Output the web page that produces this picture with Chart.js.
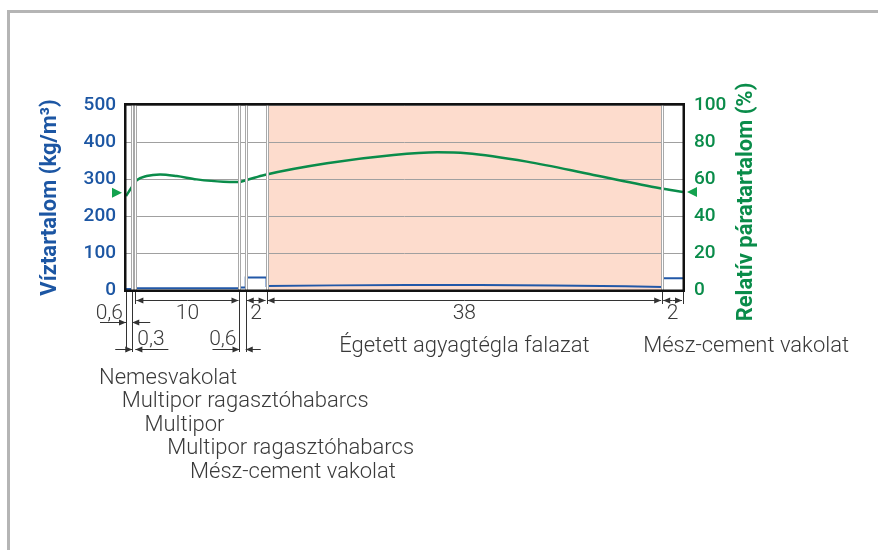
<!DOCTYPE html>
<html>
<head>
<meta charset="utf-8">
<title>Víztartalom és relatív páratartalom</title>
<script src="https://cdn.jsdelivr.net/npm/chart.js@4"></script>
<style>
    body { margin: 0; background: #fff; }
    #wrap { position: relative; width: 878px; height: 550px; }
    #frame { position: absolute; left: 7px; top: 10px; right: 0; bottom: 0;
             border-top: 3px solid #b5b5b5; border-left: 3px solid #b5b5b5; }
    canvas { position: absolute; left: 0; top: 0; }
</style>
</head>
<body>
<div id="wrap">
    <div id="frame"></div>
    <canvas id="wall"></canvas>
</div>
<script>
/**
 * Wall section: water content and relative humidity across the layers
 */

// layers from inside to outside, thickness in cm
const layerNames = ['Nemesvakolat', 'Multipor ragasztóhabarcs', 'Multipor',
    'Multipor ragasztóhabarcs', 'Mész-cement vakolat', 'Égetett agyagtégla falazat', 'Mész-cement vakolat'];
const layerThickness = [0.6, 0.3, 10, 0.6, 2, 38, 2];
const layerLabels = ['0,6', '0,3', '10', '0,6', '2', '38', '2'];

// water content (kg/m³), stepped per layer
const waterX = [0, 0.6, 0.6, 0.9, 0.9, 10.9, 10.9, 11.5, 11.5, 13.5, 13.5, 20, 27, 34, 41, 48, 51.5, 51.5, 53.5];
const waterY = [3, 3, 9, 9, 4.5, 4.5, 7, 7, 34, 34, 11, 12.5, 13.5, 13.5, 12, 10, 8, 32, 32];

// relative humidity (%)
const rhX = [0, 0.55, 1.03, 1.98, 3.27, 4.87, 6.79, 9.35, 10.8, 11.6, 13.3, 19.3, 25.7, 29.9, 32.7, 38.5, 44.9, 51.3, 53.5];
const rhY = [50.8, 55.5, 59.3, 61.6, 62.5, 61.6, 59.8, 58.5, 58.4, 59.5, 62.2, 68.5, 73.0, 74.4, 73.9, 69.4, 62.2, 55.0, 53.0];

// boundary humidity inside / outside (%)
const rhInside = 52.6;
const rhOutside = 53;

const BLUE = '#1c56a3';
const GREEN = '#0a8c4a';
const TEXT = '#3a3a3a';

const edges = [0];
layerThickness.forEach(t => edges.push(Math.round((edges[edges.length - 1] + t) * 10) / 10));

function arrow(ctx, x1, y, x2) {
    const dir = x2 > x1 ? 1 : -1;
    ctx.beginPath();
    ctx.moveTo(x1, y);
    ctx.lineTo(x2, y);
    ctx.stroke();
    ctx.beginPath();
    ctx.moveTo(x2, y);
    ctx.lineTo(x2 - dir * 7, y - 3);
    ctx.lineTo(x2 - dir * 7, y + 3);
    ctx.closePath();
    ctx.fill();
}

const wallPlugin = {
    id: 'wall',
    beforeDraw(chart) {
        const {ctx, chartArea: a, scales: {x}} = chart;
        // brick layer background
        const x1 = x.getPixelForValue(edges[5]);
        const x2 = x.getPixelForValue(edges[6]);
        ctx.save();
        ctx.fillStyle = '#fddccd';
        ctx.fillRect(x1, a.top, x2 - x1, a.bottom - a.top);
        ctx.restore();
    },
    afterDatasetsDraw(chart) {
        const {ctx, chartArea: a, scales: {x}} = chart;
        ctx.save();
        // layer boundaries
        edges.slice(1, -1).forEach(e => {
            const px = Math.round(x.getPixelForValue(e));
            ctx.fillStyle = '#a9a9a9';
            ctx.fillRect(px - 1, a.top, 3, a.bottom - a.top);
            ctx.fillStyle = '#ffffff';
            ctx.fillRect(px, a.top, 1, a.bottom - a.top);
        });
        // plot frame
        ctx.strokeStyle = '#111';
        ctx.lineWidth = 2.5;
        ctx.strokeRect(a.left - 0.75, a.top - 0.75, a.right - a.left + 1.5, a.bottom - a.top + 1.5);
        ctx.restore();
    },
    afterDraw(chart) {
        const {ctx, chartArea: a, scales: {x, yRH}} = chart;
        const px = edges.map(e => x.getPixelForValue(e));
        ctx.save();

        // right axis title, reading upwards like the left one
        ctx.save();
        ctx.translate(746, 202);
        ctx.rotate(-Math.PI / 2);
        ctx.font = 'bold 22px Roboto';
        ctx.fillStyle = GREEN;
        ctx.textAlign = 'center';
        ctx.textBaseline = 'middle';
        ctx.fillText('Relatív páratartalom (%)', 0, 0);
        ctx.restore();

        // boundary humidity markers
        ctx.fillStyle = '#13a24e';
        [[rhInside, a.left - 4, 1], [rhOutside, a.right + 4, -1]].forEach(([v, tip, dir]) => {
            const y = yRH.getPixelForValue(v);
            ctx.beginPath();
            ctx.moveTo(tip, y);
            ctx.lineTo(tip - dir * 10, y - 5);
            ctx.lineTo(tip - dir * 10, y + 5);
            ctx.closePath();
            ctx.fill();
        });

        // extension lines
        ctx.strokeStyle = '#333';
        ctx.fillStyle = '#333';
        ctx.lineWidth = 1;
        const longEdges = [0, 1, 3, 4];
        px.forEach((p, i) => {
            const xp = Math.round(p) + 0.5;
            ctx.beginPath();
            ctx.moveTo(xp, a.bottom + 2);
            ctx.lineTo(xp, longEdges.includes(i) ? 352 : 304);
            ctx.stroke();
        });

        // dimension lines
        ctx.font = '300 21px Roboto';
        const yDim = 300.5;
        [2, 4, 5, 6].forEach(i => {
            const l = px[i] + 1, r = px[i + 1] - 1;
            const mid = (l + r) / 2;
            ctx.fillStyle = '#333';
            arrow(ctx, mid, yDim, l);
            arrow(ctx, mid, yDim, r);
            ctx.fillStyle = TEXT;
            ctx.textAlign = 'center';
            ctx.fillText(layerLabels[i], mid, 319);
        });

        // thin layers
        ctx.fillStyle = '#333';
        arrow(ctx, px[0] - 26, 322.5, px[0]);
        arrow(ctx, px[1] + 18, 322.5, px[1]);
        arrow(ctx, px[1] - 17, 349.5, px[1]);
        arrow(ctx, px[2] + 33, 349.5, px[2]);
        arrow(ctx, px[3] - 27, 349.5, px[3]);
        arrow(ctx, px[4] + 15, 349.5, px[4]);
        ctx.fillStyle = TEXT;
        ctx.textAlign = 'right';
        ctx.fillText(layerLabels[0], px[0] - 3, 319);
        ctx.fillText(layerLabels[3], px[3] - 3, 345);
        ctx.textAlign = 'left';
        ctx.fillText(layerLabels[1], px[2] + 2, 345);

        // layer names
        ctx.font = '300 22px Roboto';
        ctx.textAlign = 'center';
        ctx.fillText(layerNames[5], (px[5] + px[6]) / 2, 352);
        ctx.textAlign = 'left';
        ctx.fillText(layerNames[6], px[6] - 19, 352);
        layerNames.slice(0, 5).forEach((name, i) => {
            ctx.fillText(name, 99 + i * 22.75, 383.5 + i * 23.5);
        });

        ctx.restore();
    }
};

function showWall() {
    const ctx = document.getElementById('wall');
    new Chart(ctx, {
        type: 'line',
        data: {
            datasets: [{
                label: 'Relatív páratartalom',
                data: rhX.map((v, i) => ({x: v, y: rhY[i]})),
                yAxisID: 'yRH',
                borderColor: GREEN,
                borderWidth: 2.5,
                pointRadius: 0,
                cubicInterpolationMode: 'monotone',
                order: 1
            }, {
                label: 'Víztartalom',
                data: waterX.map((v, i) => ({x: v, y: waterY[i]})),
                yAxisID: 'yW',
                borderColor: '#2258a8',
                borderWidth: 2,
                pointRadius: 0,
                tension: 0,
                order: 2
            }]
        },
        options: {
            responsive: true,
            maintainAspectRatio: false,
            animation: false,
            layout: {
                padding: {top: 105, bottom: 260, left: 0, right: 0}
            },
            plugins: {
                legend: {display: false},
                tooltip: {enabled: false}
            },
            scales: {
                x: {
                    type: 'linear',
                    min: 0,
                    max: 53.5,
                    display: false
                },
                yW: {
                    position: 'left',
                    min: 0,
                    max: 500,
                    afterFit: (scale) => { scale.width = 126; },
                    ticks: {
                        stepSize: 100,
                        padding: 10,
                        color: BLUE,
                        font: {family: 'Roboto', size: 19, weight: '500'}
                    },
                    grid: {color: '#a0a0a0', lineWidth: 1, drawTicks: false},
                    border: {display: false},
                    title: {
                        display: true,
                        text: 'Víztartalom (kg/m³)',
                        color: BLUE,
                        padding: {top: 37},
                        font: {family: 'Roboto', size: 22, weight: 'bold'}
                    }
                },
                yRH: {
                    position: 'right',
                    min: 0,
                    max: 100,
                    afterFit: (scale) => { scale.width = 195; },
                    ticks: {
                        stepSize: 20,
                        padding: 11,
                        color: GREEN,
                        font: {family: 'Roboto', size: 19, weight: '500'}
                    },
                    grid: {display: false, drawTicks: false},
                    border: {display: false}
                }
            }
        },
        plugins: [wallPlugin]
    });
}

showWall();
</script>
</body>
</html>
